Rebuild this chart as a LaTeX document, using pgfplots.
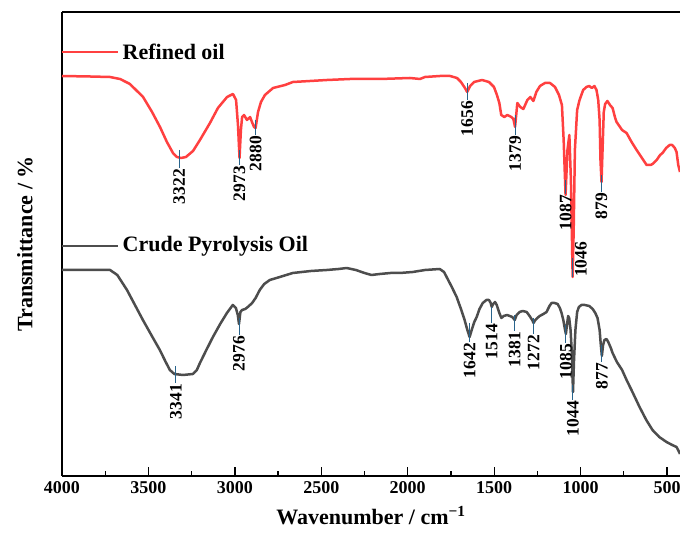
\documentclass[border=0pt]{standalone}
\usepackage{pgfplots}
\pgfplotsset{compat=1.18}
\usepackage{fontspec}
\setmainfont{Liberation Serif}
\usetikzlibrary{calc}
\definecolor{refred}{RGB}{255,64,64}
\definecolor{crudegray}{RGB}{77,77,77}
\definecolor{pk}{RGB}{40,100,140}
\begin{document}
\begin{tikzpicture}
\begin{axis}[
  scale only axis, width=618pt, height=464pt,
  x dir=reverse, xmin=425, xmax=4000, ymin=-476, ymax=-12,
  axis y line*=left, ytick=\empty,
  xtick={500,1000,...,4000}, minor x tick num=1,
  tick align=inside, major tick length=9pt, minor tick length=5pt,
  xtick pos=bottom,
  every tick/.style={black, line width=1.3pt},
  axis line style={line width=1.6pt},
  /pgf/number format/assume math mode=true,
  /pgf/number format/1000 sep={},
  xticklabel style={font=\bfseries\fontsize{18}{18}\selectfont, yshift=-2pt},
  xlabel={Wavenumber / cm\textsuperscript{−1}},
  xlabel style={font=\bfseries\fontsize{22}{22}\selectfont, yshift=-6pt},
  ylabel={Transmittance / \%},
  ylabel style={font=\bfseries\fontsize{22}{22}\selectfont, at={(axis description cs:0,0.5)}, anchor=center, yshift=37pt},
  clip=false,
]
\addplot[refred, line width=2.5pt, line join=round] coordinates {
(4000,-76) (3838,-76.5) (3722,-77) (3664,-79) (3607,-84) (3531,-97) (3479,-112) (3433,-127) (3393,-142) (3358,-153) (3335,-157) (3312,-158) (3283,-157) (3242,-151) (3202,-140) (3144,-123) (3098,-108) (3045,-97) (3011,-94) (2993,-100) (2982,-125) (2973,-158) (2965,-130) (2958,-117) (2947,-115) (2930,-120) (2912,-117) (2901,-122) (2889,-127) (2880,-128) (2866,-112) (2849,-102) (2826,-95) (2779,-88) (2710,-85) (2664,-82) (2565,-81) (2467,-80) (2334,-79) (2160,-79) (1987,-78) (1929,-79) (1900,-77) (1813,-76) (1755,-76) (1715,-78) (1692,-82) (1669,-88) (1656,-92) (1639,-86) (1616,-82) (1570,-80) (1530,-82) (1501,-87) (1484,-95) (1470,-103) (1459,-115) (1441,-117) (1424,-115) (1401,-117) (1389,-119) (1379,-127) (1366,-103) (1349,-107) (1331,-109) (1308,-100) (1291,-97) (1273,-101) (1256,-92) (1235,-86) (1206,-83) (1177,-83) (1148,-87) (1125,-95) (1108,-105) (1098,-140) (1087,-195) (1076,-150) (1065,-135) (1056,-180) (1046,-277) (1040,-230) (1033,-150) (1020,-110) (1006,-100) (985,-90) (966,-87) (950,-86) (935,-88) (920,-86) (908,-90) (898,-100) (890,-120) (885,-160) (879,-182) (873,-150) (866,-112) (858,-104) (845,-101) (830,-105) (815,-108) (800,-118) (792,-122) (780,-125) (760,-130) (734,-133) (705,-142) (676,-150) (645,-158) (618,-165) (595,-165) (584,-164) (560,-160) (540,-155) (526,-153) (505,-148) (485,-145) (470,-145) (455,-148) (445,-152) (435,-165) (425,-172)
};
\addplot[crudegray, line width=2.5pt, line join=round] coordinates {
(4000,-270) (3840,-270) (3722,-270) (3680,-275) (3624,-290) (3578,-305) (3532,-320) (3480,-336) (3434,-350) (3400,-362) (3376,-370) (3350,-374) (3300,-375) (3243,-374) (3220,-370) (3202,-363) (3165,-350) (3127,-337) (3085,-324) (3046,-313) (3012,-305) (2994,-308) (2983,-315) (2976,-324) (2968,-312) (2958,-310) (2940,-309) (2925,-307) (2900,-303) (2880,-298) (2856,-290) (2830,-284) (2798,-280) (2740,-277) (2665,-273) (2560,-271) (2469,-270) (2400,-269) (2353,-268) (2300,-270) (2250,-273) (2210,-275) (2162,-274) (2100,-273) (2046,-273) (1971,-272) (1900,-270) (1815,-269) (1790,-272) (1775,-277) (1745,-287) (1717,-297) (1690,-310) (1671,-320) (1655,-330) (1642,-337) (1630,-330) (1615,-322) (1601,-317) (1585,-309) (1566,-303) (1545,-300) (1530,-300) (1520,-303) (1514,-307) (1506,-304) (1495,-302) (1485,-305) (1470,-313) (1458,-318) (1445,-316) (1425,-315) (1410,-316) (1395,-317) (1381,-320) (1370,-315) (1353,-312) (1335,-311) (1312,-312) (1295,-316) (1280,-320) (1272,-323) (1262,-320) (1250,-318) (1237,-316) (1215,-314) (1197,-312) (1180,-306) (1168,-303) (1150,-303) (1133,-304) (1120,-308) (1110,-313) (1100,-320) (1092,-328) (1085,-334) (1079,-325) (1072,-316) (1066,-318) (1058,-330) (1050,-355) (1044,-392) (1038,-360) (1030,-330) (1020,-312) (1010,-307) (995,-305) (975,-305) (950,-306) (930,-309) (915,-313) (902,-318) (890,-330) (883,-345) (877,-356) (870,-345) (862,-340) (850,-339) (840,-342) (825,-348) (815,-353) (790,-362) (760,-370) (734,-380) (700,-392) (659,-407) (620,-420) (584,-430) (545,-437) (503,-442) (470,-445) (445,-447) (430,-452) (425,-454)
};
% legend entries
\draw[refred, line width=2.5pt] (axis cs:4000,-52) -- (axis cs:3676,-52);
\node[anchor=west, font=\bfseries\fontsize{22}{22}\selectfont, inner sep=0pt] at (axis cs:3650,-52) {Refined oil};
\draw[crudegray, line width=2.5pt] (axis cs:4000,-246) -- (axis cs:3676,-246);
\node[anchor=west, font=\bfseries\fontsize{22}{22}\selectfont, inner sep=0pt] at (axis cs:3650,-246) {Crude Pyrolysis Oil};
% peak markers
\def\pk#1#2#3{\draw[pk, line width=1pt] (axis cs:#1,-#2) -- (axis cs:#1,-#3);
  \node[rotate=90, anchor=east, inner sep=1pt, font=\bfseries\fontsize{17.5}{17.5}\selectfont] at (axis cs:#1,-#3) {#1};}
\pk{3322}{150}{168}
\pk{2973}{150}{165}
\pk{2880}{120}{135}
\pk{1656}{83}{100}
\pk{1379}{115}{135}
\pk{1087}{180}{194}
\pk{879}{175}{192}
\draw[pk, line width=1pt] (axis cs:1046,-258) -- (axis cs:1046,-277);
\node[rotate=90, anchor=north west, inner sep=1pt, font=\bfseries\fontsize{17.5}{17.5}\selectfont] at (axis cs:1040,-278) {1046};
\pk{3341}{366}{383}
\pk{2976}{318}{335}
\pk{1642}{323}{342}
\pk{1514}{307}{323}
\pk{1381}{315}{331}
\pk{1272}{318}{334}
\pk{1085}{325}{343}
\pk{1044}{385}{400}
\pk{877}{345}{362}
\end{axis}
\pgfresetboundingbox
\path[use as bounding box] ($(current axis.south west)+(-62pt,-64pt)$) rectangle ($(current axis.north east)+(0pt,12pt)$);
\end{tikzpicture}
\end{document}
